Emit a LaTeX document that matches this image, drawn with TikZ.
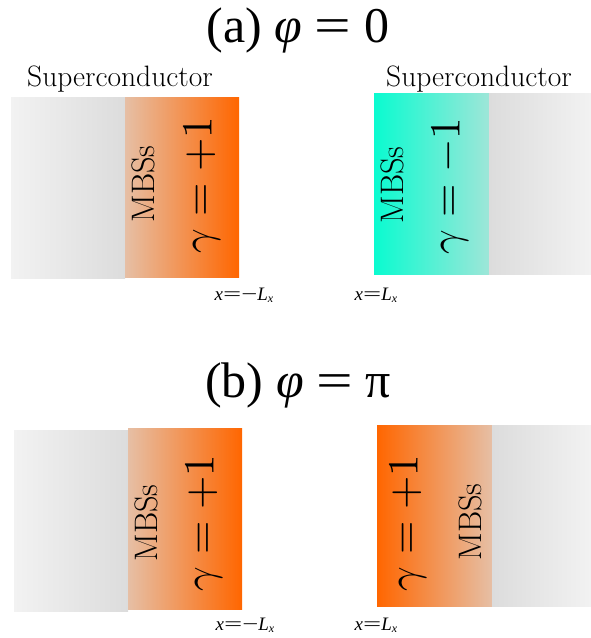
\documentclass[tikz,border=0pt]{standalone}
\usepackage{fontspec}
\usepackage{graphicx}
\newfontfamily\libser{LiberationSerif}[Extension=.ttf, UprightFont=*-Regular, ItalicFont=*-Italic, BoldFont=*-Bold]
\definecolor{greyL}{HTML}{F2F2F2}
\definecolor{greyD}{HTML}{DCDCDC}
\definecolor{orL}{HTML}{E6BFA5}
\definecolor{orD}{HTML}{FF6600}
\definecolor{tealL}{HTML}{0AFBD0}
\definecolor{tealD}{HTML}{9EE6D8}
\newcommand{\xeq}{\scalebox{1.7}[1]{=}}
\newcommand{\xminus}{\scalebox{1.5}[1]{−}}
\newcommand{\subx}{\raisebox{-0.25ex}{\fontsize{12}{12}\selectfont\textit{x}}}
\newcommand{\gam}[1]{\scalebox{4.3}{\normalsize$\gamma = #1$}}
\newcommand{\tphi}{\textit{φ}}
\newcommand{\teq}{\scalebox{1.3}[1]{=}}
\begin{document}
\begin{tikzpicture}[x=1pt,y=-1pt]
\useasboundingbox (0,0) rectangle (591,638);
\tikzset{
  slab/.style={draw=none, inner sep=0pt, minimum width=#1},
  slab/.default=114pt,
  slabh/.style={minimum height=181pt},
  greyLR/.style={shading=axis, left color=greyL, right color=greyD},
  greyRL/.style={shading=axis, left color=greyD, right color=greyL},
  orLR/.style={shading=axis, left color=orL, right color=orD},
  orRL/.style={shading=axis, left color=orD, right color=orL},
  tealLR/.style={shading=axis, left color=tealL, right color=tealD},
  title/.style={font=\libser\fontsize{50}{54}\selectfont, inner sep=0pt, anchor=base},
  sclabel/.style={font=\fontsize{29.5}{32}\selectfont, inner sep=0pt},
  mbs/.style={font=\fontsize{32.5}{34}\selectfont, rotate=90, inner sep=0pt},
  gamlabel/.style={rotate=90, inner sep=0pt},
  poslabel/.style={font=\libser\fontsize{19}{20}\selectfont, inner sep=0pt},
}
% ---------- (a) ----------
\node[title] (ta) at (298,42) {(a) \tphi\ \teq\ 0};
\node[sclabel] (sca) at (120,79) {Superconductor};
\node[sclabel] (scb) at (479,79) {Superconductor};
\node[slab, slabh, greyLR] (ga) at (68,188) {};
\node[slab=114pt, slabh, minimum height=180pt, orLR] (oa) at (182,187) {};
\node[mbs] (ma) at (143,184) {MBSs};
\node[gamlabel] (gma) at (202,185) {\gam{+1}};
\node[slab=115pt, slabh, tealLR] (tb) at (431.5,184) {};
\node[slab=102pt, slabh, greyRL] (gb) at (540,184) {};
\node[mbs] (mb) at (392,185) {MBSs};
\node[gamlabel] (gmb) at (450,186) {\gam{-1}};
\node[poslabel] (pa) at (244,295) {\textit{x}\xeq\xminus\textit{L}\subx};
\node[poslabel] (pb) at (376,295) {\textit{x}\xeq\textit{L}\subx};
% ---------- (b) ----------
\node[title] (tbb) at (298,397) {(b) \tphi\ \teq\ π};
\node[slab, slabh, greyLR] (gc) at (71,520.5) {};
\node[slab, slabh, orLR] (oc) at (185,518.5) {};
\node[mbs] (mc) at (146,523) {MBSs};
\node[gamlabel] (gmc) at (204,523) {\gam{+1}};
\node[slab=115pt, slabh, orRL] (od) at (434.5,515.5) {};
\node[slab=99pt, slabh, greyRL] (gd) at (541.5,515.5) {};
\node[gamlabel] (gmd) at (408,523) {\gam{+1}};
\node[mbs] (md) at (470,522) {MBSs};
\node[poslabel] (pc) at (245,625) {\textit{x}\xeq\xminus\textit{L}\subx};
\node[poslabel] (pd) at (376,625) {\textit{x}\xeq\textit{L}\subx};
\end{tikzpicture}
\end{document}
